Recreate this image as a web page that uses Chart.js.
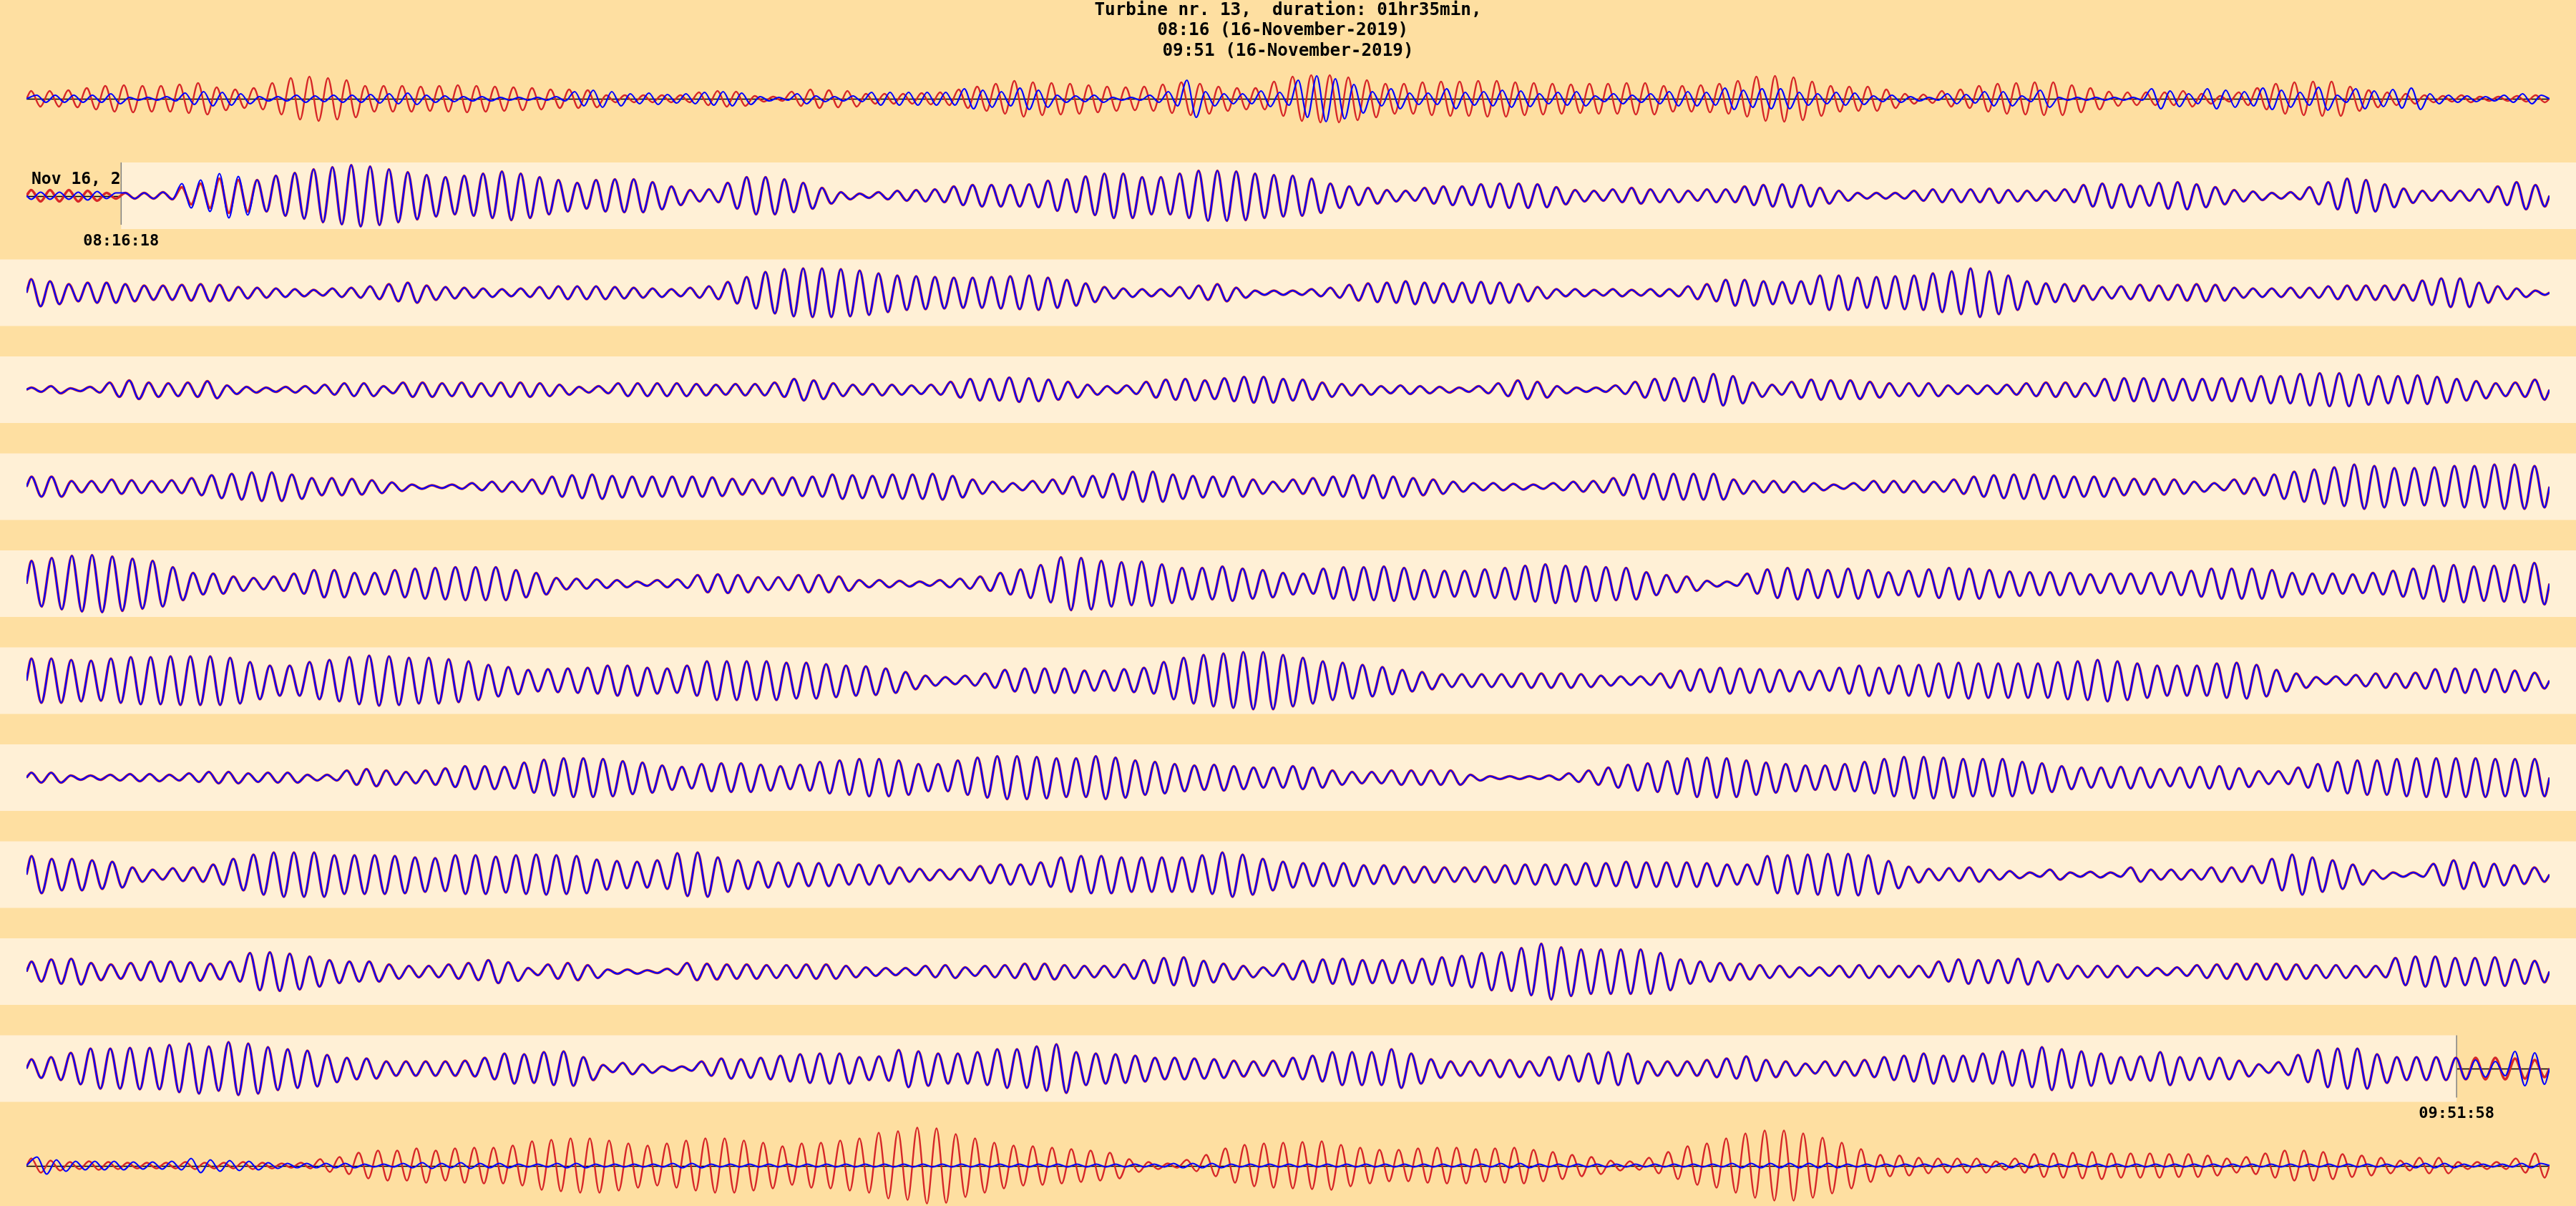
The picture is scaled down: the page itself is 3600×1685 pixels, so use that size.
<!DOCTYPE html>
<html>
<head>
<meta charset="utf-8">
<script src="https://cdn.jsdelivr.net/npm/chart.js@4/dist/chart.umd.min.js"></script>
<style>
  html, body { margin: 0; padding: 0; background: #FEDFA1; }
  #wrap { width: 3600px; height: 1685px; }
</style>
</head>
<body>
<div id="wrap"><canvas id="c" width="3600" height="1685"></canvas></div>
<script>
// ---------------- data ----------------
const titleLines = ["Turbine nr. 13,  duration: 01hr35min,", "08:16 (16-November-2019) ", "09:51 (16-November-2019)"];
const dateLabel = "Nov 16, 2019";
const traceStart = "08:06:18";
const rowSeconds = 578.3;
const bandStart = "08:16:18";
const bandEnd = "09:51:58";

// amplitude of every oscillation cycle along each helicorder row (red = measured)
const red01 = [11,11,12,15,18,19,18,18,20,22,16,13,15,22,29,31,29,26,18,18,18,17,18,19,18,17,16,15,13,13,12,5,5,5,5,5,9,11,10,4,3,10,13,12,11,
  7,7,7,8,9,13,17,21,25,23,22,21,19,17,16,17,20,23,21,17,15,15,24,31,33,33,30,26,21,21,23,24,24,25,25,23,22,21,20,21,21,22,22,18,18,19,
  21,25,31,32,30,24,18,17,17,13,7,6,11,13,18,21,22,23,23,19,15,10,9,9,9,11,7,4,9,15,21,23,24,24,17,12,9,7,5,4,5,3,3,4,5];
const red02 = [8,8,8,7,4,4,4,5,12,17,24,22,22,28,32,37,40,43,41,37,33,29,26,28,31,34,31,26,22,18,22,23,23,19,13,8,9,18,26,26,23,18,11,5,
  3,5,7,8,9,13,15,15,15,16,21,23,27,31,31,26,26,31,35,35,34,31,29,28,24,17,13,11,8,7,11,13,13,16,17,17,16,12,8,7,9,11,9,9,7,
  9,9,13,15,16,15,11,7,4,4,4,7,9,9,9,10,8,7,7,9,15,17,16,14,18,19,16,12,8,6,4,5,12,19,24,22,16,10,7,7,7,9,13,19,15];
const red03 = [19,16,12,14,14,12,10,10,11,12,11,8,7,6,5,4,6,7,9,12,14,10,8,7,6,5,6,8,9,9,9,8,7,6,5,7,9,15,22,29,33,34,34,33,31,
  27,24,23,22,21,21,22,23,24,21,18,13,8,6,5,5,8,10,12,7,3,3,3,5,7,11,13,14,16,14,13,14,15,14,12,8,5,5,4,5,4,5,5,9,
  12,18,18,16,15,16,24,24,21,22,23,24,27,30,34,30,24,16,13,12,10,8,9,11,10,11,12,11,7,6,6,7,7,9,10,10,10,11,17,20,20,14,9,6,3];
const red04 = [3,5,2,4,10,13,10,9,10,12,6,4,3,4,5,7,9,9,5,10,10,9,10,9,10,10,9,7,4,5,9,9,9,9,8,7,8,8,10,15,13,9,7,8,
  7,6,7,11,15,15,17,16,14,11,7,5,6,11,14,15,13,16,18,18,15,14,10,8,7,5,6,5,4,3,5,9,13,11,5,3,3,6,11,15,16,17,22,19,
  10,7,11,14,13,13,11,9,9,9,6,6,6,7,9,10,10,9,15,16,16,15,15,15,16,16,19,19,22,23,23,21,19,19,20,18,15,12,9,10,14];
const red05 = [14,14,8,8,10,9,8,9,12,16,18,20,20,17,12,12,11,9,6,3,2,3,5,7,7,10,14,16,17,15,14,14,14,14,13,11,10,12,13,14,17,16,
  15,17,17,18,15,10,7,5,8,10,14,15,18,21,21,17,15,14,14,10,7,10,12,14,16,16,14,12,10,7,5,5,4,3,5,7,8,12,17,18,18,18,18,
  10,8,8,7,5,3,5,8,8,8,7,10,14,16,17,17,15,14,14,12,11,11,10,7,5,10,12,17,21,24,27,31,29,26,26,27,29,29,31,31,29];
const red06 = [32,36,39,40,38,35,32,23,15,14,10,8,10,14,19,19,15,15,19,21,22,23,23,23,19,15,8,7,6,5,3,5,6,12,13,12,9,9,12,12,10,
  5,5,4,3,5,7,10,15,20,26,37,36,32,30,31,27,22,22,24,21,19,15,14,21,23,23,24,22,19,18,18,20,22,25,27,25,24,23,22,16,12,10,4,
  3,14,20,22,20,19,21,19,16,18,20,22,21,19,17,16,16,15,13,14,14,15,16,18,21,21,21,19,15,14,14,13,15,18,21,25,26,24,25,26,29];
const red07 = [31,31,29,28,31,33,33,34,34,34,32,26,21,21,26,29,33,35,34,32,32,30,27,22,19,15,16,17,18,21,21,18,17,21,27,27,27,27,25,25,23,21,
  20,17,12,7,5,7,10,15,17,17,17,14,14,16,18,26,32,36,38,40,40,36,32,27,25,22,19,15,12,9,9,9,9,10,10,10,9,7,6,6,10,14,16,
  18,17,16,15,13,14,18,21,18,21,22,24,25,24,24,24,24,26,27,29,27,24,21,21,21,24,25,22,15,10,5,6,8,10,10,11,16,17,16,16,14,11];
const red08 = [7,7,3,3,4,5,5,4,6,8,8,6,7,7,4,4,10,12,10,8,10,13,16,16,15,21,25,27,27,26,23,21,17,15,19,20,20,18,16,18,22,24,26,26,
  24,19,19,24,28,30,30,29,27,27,30,28,24,22,19,17,18,16,14,14,16,14,10,8,8,10,10,10,10,4,2,2,2,3,6,10,14,18,20,23,27,28,27,
  24,21,19,17,17,19,22,26,29,29,28,26,26,26,22,20,16,14,14,15,14,12,14,15,16,13,9,9,14,19,22,24,24,26,27,27,27,27,26,26,26];
const red09 = [26,22,22,20,18,10,7,9,10,14,22,28,31,31,31,27,27,27,26,24,23,27,27,25,27,28,27,26,21,19,18,20,30,31,24,20,18,17,16,16,14,14,
  13,10,8,7,8,12,14,14,17,24,26,26,24,24,24,24,27,31,28,22,18,16,16,16,13,13,11,11,10,10,11,13,14,14,14,16,16,18,17,17,17,16,14,
  14,26,27,28,29,29,27,19,11,8,9,10,7,5,3,7,3,4,3,10,7,7,7,10,10,12,22,28,24,20,14,6,3,3,15,20,17,15,13,10];
const red10 = [14,17,18,12,10,12,14,14,13,11,14,26,27,25,21,16,14,14,10,8,8,10,12,16,13,5,10,12,9,3,3,2,4,12,11,10,10,9,9,10,10,8,
  6,5,5,8,9,6,8,9,11,11,9,8,8,10,16,19,20,15,11,8,6,11,15,17,18,16,16,16,18,20,22,26,27,33,39,34,31,31,31,31,26,17,14,
  12,11,9,8,6,6,8,9,8,8,8,14,17,16,16,18,14,10,8,8,8,6,5,6,9,10,11,11,11,10,9,9,8,8,19,21,21,19,19,20,17,15];
const red11 = [13,16,22,28,28,29,29,33,35,31,37,35,30,27,25,19,15,14,10,10,10,10,11,15,21,20,23,24,16,5,8,6,3,3,10,14,13,15,18,20,21,21,16,
  17,26,24,21,21,23,27,27,31,34,23,21,20,18,15,15,14,13,11,10,11,15,18,23,23,23,27,21,13,10,10,12,12,10,16,18,21,23,21,10,10,10,12,14,
  17,12,10,7,10,10,12,16,18,21,18,18,21,24,26,30,27,24,21,16,17,23,16,15,15,11,6,9,19,26,28,28,20,16,16,16,15,15,15,14,12];
const red12 = [10,7,5,6,5,4,4,4,5,4,4,5,4,3,4,9,12,18,21,21,24,21,24,25,25,28,34,36,38,38,35,31,28,31,35,38,38,35,32,27,31,32,35,
  38,46,48,53,52,44,38,32,28,27,25,23,21,18,9,5,3,8,15,24,29,31,32,33,34,29,25,22,22,24,25,25,23,24,25,22,19,15,12,7,6,11,19,27,31,
  38,45,49,49,45,39,32,23,15,14,11,10,10,10,6,10,16,17,18,19,17,17,17,16,16,14,10,12,17,21,21,19,16,14,11,7,11,11,5,5,5,10,17];

// blue = model; inside the highlighted interval it follows the red trace
const blue01 = [5,5,5,5,7,2,2,3,8,10,9,7,3,3,5,4,5,5,6,7,8,5,4,3,3,2,2,2,3,10,12,10,7,8,6,7,9,10,8,3,2,7,4,3,4,
  9,9,9,9,9,14,12,10,15,12,5,4,5,2,2,5,10,26,10,7,7,11,9,26,32,28,20,10,14,8,8,14,9,10,12,11,7,9,10,4,7,5,7,10,10,9,
  15,12,14,14,9,7,9,8,4,5,3,2,7,6,10,10,4,12,2,2,2,2,2,14,11,7,14,12,10,15,12,9,16,5,14,11,13,15,7,5,4,3,5,7,5];
const blue12 = [12,8,6,6,6,5,5,6,10,8,7,6,4,3,3,3,3,2,2,3,4,3,4,3,3,2,2,3,3,2,2,2,2,3,3,2,2,2,2,2,2,2,2,
  2,2,2,2,2,2,2,2,2,2,2,2,2,2,2,2,3,3,3,2,2,2,2,2,2,2,2,2,2,2,2,2,2,3,3,2,2,2,2,2,2,2,2,2,2,
  3,3,3,3,3,3,2,2,2,2,2,2,2,2,3,3,2,2,2,2,2,2,2,2,2,2,2,2,2,2,2,2,2,2,2,3,3,3,2,2,2,3,3];
const blue02Start = [-5,-5,-5,-6,-4,4,4,5,17,22,31,27];   // negative = opposite phase
const blue11End = [12,10,24,22];
const blueLagCycles = 0.3;  // phase lag of the blue trace outside the fitted interval (rows 1 and 12)

const redRows = [red01, red02, red03, red04, red05, red06, red07, red08, red09, red10, red11, red12];
const blueRows = [
  blue01,
  blue02Start.concat(red02.slice(blue02Start.length)),
  red03, red04, red05, red06, red07, red08, red09, red10,
  red11.slice(0, red11.length - blue11End.length).concat(blue11End),
  blue12
];
const blueLag = [blueLagCycles, 0, 0, 0, 0, 0, 0, 0, 0, 0, 0, blueLagCycles];

// ---------------- layout / style ----------------
const ROW_TOP = 138, ROW_PITCH = 135.5, BAND_HALF = 46.5, AMP_SCALE = 1;
const BG = '#FEDFA1', BAND = '#FFF0D6', RED = '#D62728', BLUE = '#0000FF';
const MONO = '"DejaVu Sans Mono", "Liberation Mono", monospace';

function rowCenter(r) { return -(ROW_TOP + ROW_PITCH * r); }
function secs(hms) { const p = hms.split(':').map(Number); return p[0] * 3600 + p[1] * 60 + p[2]; }

function buildTrace(amps, row, lag) {
  const n = amps.length, T = rowSeconds / n, base = rowCenter(row);
  const pts = [{ x: 0, y: base }];
  amps.forEach((a, i) => {
    const t1 = (i + 0.25 + lag) * T, t2 = (i + 0.75 + lag) * T;
    if (t1 < rowSeconds) pts.push({ x: t1, y: base + a * AMP_SCALE });
    if (t2 < rowSeconds) pts.push({ x: t2, y: base - a * AMP_SCALE });
  });
  pts.push({ x: rowSeconds, y: base });
  return pts;
}

const lastRow = redRows.length - 1;
const datasets = [];
redRows.forEach((a, r) => datasets.push({
  label: 'measured row ' + (r + 1), data: buildTrace(a, r, 0),
  borderColor: RED, borderWidth: (r === 0 || r === lastRow) ? 2.4 : 3.6, order: 2
}));
blueRows.forEach((a, r) => datasets.push({
  label: 'model row ' + (r + 1), data: buildTrace(a, r, blueLag[r]),
  borderColor: BLUE, borderWidth: 2.2, order: 1
}));

const t0 = secs(traceStart);
const bs = secs(bandStart) - t0, be = secs(bandEnd) - t0;
const bandStartRow = Math.floor(bs / rowSeconds), bandStartOff = bs - bandStartRow * rowSeconds;
const bandEndRow = Math.floor(be / rowSeconds), bandEndOff = be - bandEndRow * rowSeconds;

const helicorder = {
  id: 'helicorder',
  beforeDraw(chart) {
    const { ctx, scales: { x, y } } = chart;
    ctx.save();
    ctx.fillStyle = BG;
    ctx.fillRect(0, 0, chart.width, chart.height);
    // date label (partly covered by the band)
    ctx.fillStyle = '#000';
    ctx.font = 'bold 23px ' + MONO;
    ctx.textAlign = 'left';
    ctx.textBaseline = 'middle';
    ctx.fillText(dateLabel, 44, y.getPixelForValue(rowCenter(bandStartRow)) - 22);
    // baselines
    ctx.strokeStyle = '#000';
    ctx.lineWidth = 1.5;
    for (let r = 0; r < redRows.length; r++) {
      const yc = Math.round(y.getPixelForValue(rowCenter(r))) + 0.5;
      ctx.beginPath();
      ctx.moveTo(x.getPixelForValue(0), yc);
      ctx.lineTo(x.getPixelForValue(rowSeconds), yc);
      ctx.stroke();
    }
    // highlighted interval bands
    ctx.fillStyle = BAND;
    for (let r = bandStartRow; r <= bandEndRow; r++) {
      const yc = y.getPixelForValue(rowCenter(r));
      const xl = r === bandStartRow ? x.getPixelForValue(bandStartOff) : 0;
      const xr = r === bandEndRow ? x.getPixelForValue(bandEndOff) : chart.width;
      ctx.fillRect(xl, yc - BAND_HALF, xr - xl, BAND_HALF * 2);
    }
    // start / end markers
    ctx.strokeStyle = '#808080';
    ctx.lineWidth = 1.5;
    [[bandStartRow, bandStartOff], [bandEndRow, bandEndOff]].forEach(([r, off]) => {
      const yc = y.getPixelForValue(rowCenter(r));
      const xp = x.getPixelForValue(off);
      ctx.beginPath();
      ctx.moveTo(xp, yc - BAND_HALF);
      ctx.lineTo(xp, yc + BAND_HALF - 6);
      ctx.stroke();
    });
    ctx.fillStyle = '#000';
    ctx.font = 'bold 22px ' + MONO;
    ctx.textAlign = 'center';
    ctx.fillText(bandStart, x.getPixelForValue(bandStartOff), y.getPixelForValue(rowCenter(bandStartRow)) + 64);
    ctx.fillText(bandEnd, x.getPixelForValue(bandEndOff), y.getPixelForValue(rowCenter(bandEndRow)) + 63);
    ctx.restore();
  },
  afterDraw(chart) {
    const { ctx } = chart;
    ctx.save();
    ctx.fillStyle = '#000';
    ctx.font = 'bold 24.3px ' + MONO;
    ctx.textAlign = 'center';
    ctx.textBaseline = 'alphabetic';
    titleLines.forEach((t, i) => ctx.fillText(t, 1800, 21 + i * 28.3));
    ctx.restore();
  }
};

new Chart(document.getElementById('c'), {
  type: 'line',
  data: { datasets },
  options: {
    responsive: false,
    animation: false,
    devicePixelRatio: 1,
    layout: { padding: { left: 37, right: 37, top: 0, bottom: 0 } },
    elements: {
      point: { radius: 0, hoverRadius: 0 },
      line: { cubicInterpolationMode: 'monotone', fill: false, borderJoinStyle: 'round' }
    },
    scales: {
      x: { type: 'linear', min: 0, max: rowSeconds, display: false },
      y: { type: 'linear', min: -1685, max: 0, display: false }
    },
    plugins: { legend: { display: false }, title: { display: false }, tooltip: { enabled: false } }
  },
  plugins: [helicorder]
});
</script>
</body>
</html>
